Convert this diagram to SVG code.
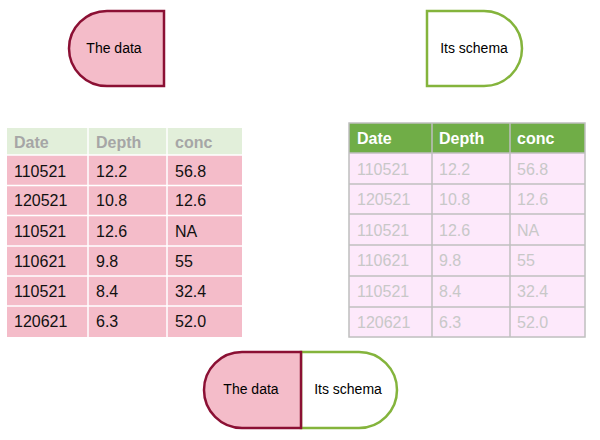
<svg xmlns="http://www.w3.org/2000/svg" width="600" height="440" viewBox="0 0 600 440">
<style>
text{font-family:"Liberation Sans",Arial,sans-serif;dominant-baseline:central}
.lbl{font-size:14px;fill:#000;text-anchor:middle}
.data{fill:#F4BCC9;stroke:#8B1034;stroke-width:2.5}
.schema{fill:#fff;stroke:#84B43C;stroke-width:2.5}
.c{font-size:16px}
.lh{fill:#E2EFDA}
.lr{fill:#F4BCC9}
.lgrid{stroke:#fff;stroke-width:1.5}
.lht{fill:#A6A6A6;font-weight:bold}
.lt{fill:#111}
.rh{fill:#70AD47}
.rr{fill:#FDE9FB}
.rgrid{stroke:#BFBFBF;stroke-width:1.5;fill:none}
.rht{fill:#fff;font-weight:bold}
.rt{fill:#C8C8C8}
</style>

<g id="data-top">
<path class="data" d="M164,11 L164,86 L107,86 A38,37.5 0 0 1 107,11 Z"/>
<text class="lbl" x="114" y="48">The data</text>
</g>

<g id="schema-top">
<path class="schema" d="M427,11 L484,11 A38,37.5 0 0 1 484,86 L427,86 Z"/>
<text class="lbl" x="474" y="48">Its schema</text>
</g>

<g id="table-data">
<rect class="lh" x="7" y="128" width="235" height="27"/>
<rect class="lr" x="7" y="155" width="235" height="182"/>
<g class="lgrid">
<line x1="7" y1="155" x2="242" y2="155"/>
<line x1="7" y1="185.5" x2="242" y2="185.5"/>
<line x1="7" y1="215.5" x2="242" y2="215.5"/>
<line x1="7" y1="246" x2="242" y2="246"/>
<line x1="7" y1="276" x2="242" y2="276"/>
<line x1="7" y1="306" x2="242" y2="306"/>
<line x1="88" y1="128" x2="88" y2="337"/>
<line x1="167" y1="128" x2="167" y2="337"/>
</g>
<g class="c lht">
<text x="14" y="142">Date</text><text x="96" y="142">Depth</text><text x="175" y="142">conc</text>
</g>
<g class="c lt">
<text x="14" y="171">110521</text><text x="96" y="171">12.2</text><text x="175" y="171">56.8</text>
<text x="14" y="200.5">120521</text><text x="96" y="200.5">10.8</text><text x="175" y="200.5">12.6</text>
<text x="14" y="231">110521</text><text x="96" y="231">12.6</text><text x="175" y="231">NA</text>
<text x="14" y="261">110621</text><text x="96" y="261">9.8</text><text x="175" y="261">55</text>
<text x="14" y="291">110521</text><text x="96" y="291">8.4</text><text x="175" y="291">32.4</text>
<text x="14" y="321.5">120621</text><text x="96" y="321.5">6.3</text><text x="175" y="321.5">52.0</text>
</g>
</g>

<g id="table-schema">
<rect class="rh" x="349" y="123" width="236" height="30"/>
<rect class="rr" x="349" y="153" width="236" height="184"/>
<g class="rgrid">
<rect x="349" y="123" width="236" height="214"/>
<line x1="349" y1="153" x2="585" y2="153"/>
<line x1="349" y1="184" x2="585" y2="184"/>
<line x1="349" y1="214" x2="585" y2="214"/>
<line x1="349" y1="245" x2="585" y2="245"/>
<line x1="349" y1="276" x2="585" y2="276"/>
<line x1="349" y1="307" x2="585" y2="307"/>
<line x1="432" y1="123" x2="432" y2="337"/>
<line x1="510" y1="123" x2="510" y2="337"/>
</g>
<g class="c rht">
<text x="357" y="138">Date</text><text x="439" y="138">Depth</text><text x="517" y="138">conc</text>
</g>
<g class="c rt">
<text x="357" y="169">110521</text><text x="439" y="169">12.2</text><text x="517" y="169">56.8</text>
<text x="357" y="199.5">120521</text><text x="439" y="199.5">10.8</text><text x="517" y="199.5">12.6</text>
<text x="357" y="230">110521</text><text x="439" y="230">12.6</text><text x="517" y="230">NA</text>
<text x="357" y="260.5">110621</text><text x="439" y="260.5">9.8</text><text x="517" y="260.5">55</text>
<text x="357" y="291.5">110521</text><text x="439" y="291.5">8.4</text><text x="517" y="291.5">32.4</text>
<text x="357" y="322">120621</text><text x="439" y="322">6.3</text><text x="517" y="322">52.0</text>
</g>
</g>

<g id="schema-bottom">
<path class="schema" d="M301,352 L359,352 A38,38 0 0 1 359,428 L301,428 Z"/>
<text class="lbl" x="348" y="389">Its schema</text>
</g>

<g id="data-bottom">
<path class="data" d="M301,352 L301,428 L242,428 A38,38 0 0 1 242,352 Z"/>
<text class="lbl" x="251" y="389">The data</text>
</g>
</svg>
